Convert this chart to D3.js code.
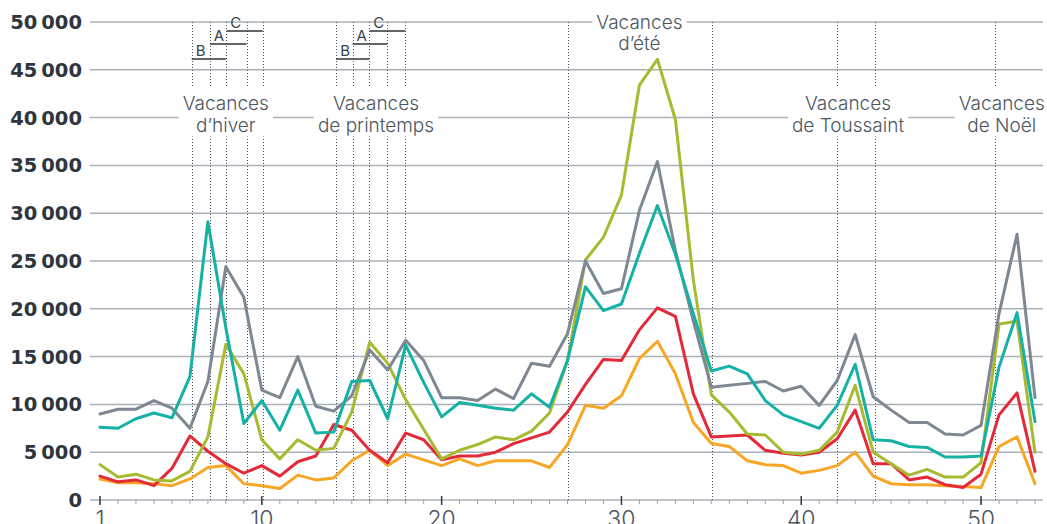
<!DOCTYPE html>
<html>
<head>
<meta charset="utf-8">
<script src="https://cdn.jsdelivr.net/npm/d3@7"></script>
<style>
  body { margin: 0; background: #fff; }
  svg { display: block; }
</style>
</head>
<body>
<svg id="chart" width="1047" height="524"></svg>
<script>
// weeks of the year (x categories)
const weeks = d3.range(1, 54);

// one value per week
const grayValues = [9000, 9500, 9500, 10400, 9600, 7500, 12400, 24400, 21200, 11500,
  10700, 15000, 9800, 9300, 10900, 15700, 13600, 16700, 14600, 10700,
  10700, 10400, 11600, 10600, 14300, 14000, 17400, 25000, 21600, 22100,
  30300, 35400, 26100, 18700, 11800, 12000, 12200, 12400, 11400, 11900,
  9900, 12500, 17300, 10800, 9400, 8100, 8100, 6900, 6800, 7800,
  19500, 27800, 10700];
const tealValues = [7600, 7500, 8500, 9100, 8600, 12900, 29100, 18000, 8000, 10400,
  7300, 11500, 7000, 7100, 12400, 12500, 8500, 16200, 12300, 8700,
  10200, 9900, 9600, 9400, 11100, 9700, 14600, 22300, 19800, 20500,
  25800, 30800, 25700, 19500, 13500, 14000, 13200, 10400, 8900, 8200,
  7500, 9900, 14200, 6300, 6200, 5600, 5500, 4500, 4500, 4600,
  13900, 19600, 8200];
const oliveValues = [3700, 2400, 2700, 2100, 2000, 3000, 6600, 16300, 13200, 6300,
  4300, 6300, 5200, 5400, 9200, 16500, 14300, 10500, 7400, 4300,
  5200, 5800, 6600, 6300, 7200, 9100, 14600, 25100, 27500, 31900,
  43400, 46100, 39800, 23000, 11000, 9200, 6900, 6800, 5000, 4800,
  5200, 7100, 12000, 5000, 3800, 2600, 3200, 2400, 2400, 3900,
  18400, 18700, 5000];
const redValues = [2500, 1900, 2100, 1500, 3300, 6700, 5100, 3800, 2800, 3600,
  2500, 4000, 4600, 7900, 7300, 5200, 3900, 7000, 6300, 4200,
  4600, 4600, 5000, 5900, 6500, 7100, 9200, 12100, 14700, 14600,
  17800, 20100, 19200, 11100, 6600, 6700, 6800, 5200, 4900, 4700,
  5000, 6400, 9400, 3800, 3800, 2100, 2400, 1600, 1300, 2700,
  8900, 11200, 3000];
const orangeValues = [2200, 1800, 1800, 1700, 1500, 2200, 3400, 3600, 1700, 1500,
  1200, 2600, 2100, 2300, 4100, 5200, 3600, 4800, 4200, 3600,
  4300, 3600, 4100, 4100, 4100, 3400, 5800, 9900, 9600, 10900,
  14800, 16600, 13200, 8100, 5900, 5600, 4100, 3700, 3600, 2800,
  3100, 3600, 5000, 2500, 1700, 1600, 1600, 1500, 1400, 1300,
  5600, 6600, 1700];

const yTicks = [0, 5000, 10000, 15000, 20000, 25000, 30000, 35000, 40000, 45000, 50000];
const xTicks = [1, 10, 20, 30, 40, 50];

// school holiday zones (in fractional weeks)
const zoneBars = [
  { zone: "B", start: 6.1, end: 8.0 },
  { zone: "A", start: 7.12, end: 9.15 },
  { zone: "C", start: 8.05, end: 10.05 },
  { zone: "B", start: 14.13, end: 15.98 },
  { zone: "A", start: 15.05, end: 16.98 },
  { zone: "C", start: 16.0, end: 17.98 }
];
const otherHolidayLines = [27.0, 35.02, 41.97, 44.12, 50.78];
const holidayLabels = [
  { lines: ["Vacances", "d’hiver"], week: 8.0, row: "mid" },
  { lines: ["Vacances", "de printemps"], week: 16.35, row: "mid" },
  { lines: ["Vacances", "d’été"], week: 31.0, row: "top" },
  { lines: ["Vacances", "de Toussaint"], week: 42.6, row: "mid" },
  { lines: ["Vacances", "de Noël"], week: 51.15, row: "mid" }
];

const series = [
  { name: "orange", color: "#f7a625", values: orangeValues },
  { name: "red", color: "#e42a3a", values: redValues },
  { name: "olive", color: "#a7ba30", values: oliveValues },
  { name: "gray", color: "#7e8892", values: grayValues },
  { name: "teal", color: "#16b1a6", values: tealValues }
];

const svg = d3.select("#chart");

const x = d3.scaleLinear().domain([1, 53]).range([100, 1035]);
const y = d3.scaleLinear().domain([0, 50000]).range([500, 22]);

const fmt = v => d3.format(",")(v).replace(/,/g, "\u2009");

/* gridlines */
svg.append("g")
  .selectAll("line")
  .data(yTicks)
  .enter().append("line")
  .attr("x1", 90)
  .attr("x2", 1043)
  .attr("y1", d => y(d))
  .attr("y2", d => y(d))
  .attr("stroke", "#aab1b9")
  .attr("stroke-width", 1.5);

/* y labels */
svg.append("g")
  .selectAll("text")
  .data(yTicks)
  .enter().append("text")
  .attr("x", 82)
  .attr("y", d => y(d))
  .attr("dy", "0.36em")
  .attr("text-anchor", "end")
  .style("font-family", "'DejaVu Sans', sans-serif")
  .style("font-weight", "bold")
  .style("font-size", "19.5px")
  .style("fill", "#2e363e")
  .text(d => fmt(d));

/* dotted holiday lines */
let lineWeeks = [];
zoneBars.forEach(z => { lineWeeks.push(z.start, z.end); });
lineWeeks = lineWeeks.concat(otherHolidayLines).sort((a, b) => a - b);
lineWeeks = lineWeeks.filter((w, i) => i === 0 || w - lineWeeks[i - 1] > 0.15);

svg.append("g")
  .selectAll("line")
  .data(lineWeeks)
  .enter().append("line")
  .attr("x1", d => Math.round(x(d)) + 0.5)
  .attr("x2", d => Math.round(x(d)) + 0.5)
  .attr("y1", y(50000))
  .attr("y2", y(0))
  .attr("stroke", "#4d5560")
  .attr("stroke-width", 1)
  .attr("stroke-dasharray", "1,2");

/* zone bars with letters */
const barY = { B: 59, A: 44, C: 31 };
const bars = svg.append("g");
bars.selectAll("line")
  .data(zoneBars)
  .enter().append("line")
  .attr("x1", d => x(d.start))
  .attr("x2", d => x(d.end))
  .attr("y1", d => barY[d.zone])
  .attr("y2", d => barY[d.zone])
  .attr("stroke", "#2f353b")
  .attr("stroke-width", 1.6);
bars.selectAll("text")
  .data(zoneBars)
  .enter().append("text")
  .attr("x", d => x(d.start) + 9)
  .attr("y", d => barY[d.zone] - 3)
  .attr("text-anchor", "middle")
  .style("font-family", "Inter, 'Open Sans', sans-serif")
  .style("font-size", "15px")
  .style("fill", "#3a434c")
  .text(d => d.zone);

/* holiday labels on a white box */
const labelG = svg.append("g");
holidayLabels.forEach(l => {
  const base = l.row === "top" ? 28.5 : 110;
  const g = labelG.append("g");
  const rect = g.append("rect").attr("fill", "#fff");
  const t = g.append("text")
    .attr("text-anchor", "middle")
    .style("font-family", "Inter, 'Open Sans', sans-serif")
    .style("font-weight", "300")
    .style("font-size", "19px")
    .style("fill", "#4b5661");
  l.lines.forEach((s, i) => {
    t.append("tspan")
      .attr("x", x(l.week))
      .attr("y", base + i * 21.5)
      .text(s);
  });
  const bb = t.node().getBBox();
  rect.attr("x", bb.x - 4)
    .attr("width", bb.width + 8)
    .attr("y", base - 22)
    .attr("height", 21.5 + 27);
});

/* series lines */
const line = d3.line()
  .x((d, i) => x(weeks[i]))
  .y(d => y(d));

svg.append("g")
  .selectAll("path")
  .data(series)
  .enter().append("path")
  .attr("d", d => line(d.values))
  .attr("fill", "none")
  .attr("stroke", d => d.color)
  .attr("stroke-width", 3)
  .attr("stroke-linejoin", "round")
  .attr("stroke-linecap", "round");

/* x axis ticks */
const axis = svg.append("g");
axis.selectAll(".minor")
  .data(weeks)
  .enter().append("line")
  .attr("class", "minor")
  .attr("x1", d => x(d))
  .attr("x2", d => x(d))
  .attr("y1", y(0))
  .attr("y2", y(0) + 4)
  .attr("stroke", "#9aa2aa")
  .attr("stroke-width", 1);
axis.selectAll(".major")
  .data(xTicks)
  .enter().append("line")
  .attr("class", "major")
  .attr("x1", d => x(d))
  .attr("x2", d => x(d))
  .attr("y1", y(0) - 4)
  .attr("y2", y(0) + 5)
  .attr("stroke", "#333a41")
  .attr("stroke-width", 1.5);
// labels sit partly below the frame, as in the original
axis.selectAll("text")
  .data(xTicks)
  .enter().append("text")
  .attr("x", d => x(d))
  .attr("y", 527)
  .attr("text-anchor", "middle")
  .style("font-family", "Inter, 'Open Sans', sans-serif")
  .style("font-weight", "300")
  .style("font-size", "23px")
  .style("fill", "#4b5661")
  .text(d => d);
</script>
</body>
</html>
